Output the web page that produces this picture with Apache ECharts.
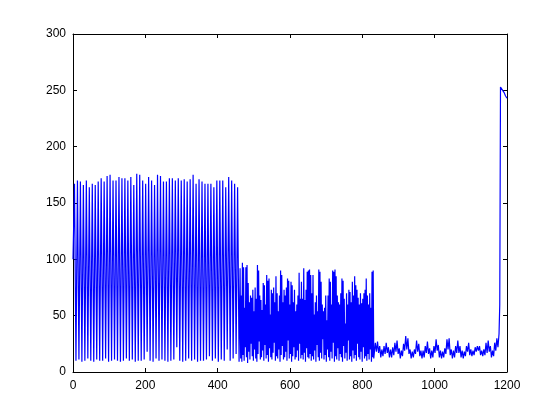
<!DOCTYPE html>
<html>
<head>
<meta charset="utf-8">
<script src="https://cdn.jsdelivr.net/npm/echarts@6/dist/echarts.min.js"></script>
<style>
html,body{margin:0;padding:0;background:#fff;}
#chart{width:560px;height:420px;}
</style>
</head>
<body>
<div id="chart"></div>
<script>
// ---- data ----
// segment 1: sampled every 4.1 units from 0, first point then peak/trough pairs
const seg1Start = 0;
const seg1Step = 4.1;
const seg1First = 100;
const seg1Peaks = [167,170,169,166,170,164,167,166,169,172,169,174,175,170,170,173,172,172,170,173,166,176,175,170,167,173,170,166,175,174,169,169,172,172,170,172,170,171,169,171,175,167,171,169,167,167,167,164,170,170,170,164,173,170,167,164];
const seg1Troughs = [10,11,9,10,12,10,9,11,10,10,12,9,10,11,10,9,10,12,10,11,9,10,10,11,18,10,9,12,10,11,10,9,10,11,22,10,9,10,12,10,11,9,10,10,11,14,10,12,9,11,10,20,10,12,16,9];

// segment 2: sampled every 1.6 units from 462, peak/trough pairs
const seg2Start = 462;
const seg2Step = 1.6;
const seg2Peaks = [92,68,97,93,57,93,95,79,62,68,66,73,54,75,65,95,90,68,64,55,79,77,60,86,81,83,51,73,70,75,62,85,70,54,68,90,86,62,73,68,75,83,81,60,80,77,62,73,54,60,68,88,65,80,65,92,64,73,89,90,91,86,70,86,51,62,68,54,91,89,80,60,54,57,68,46,68,83,80,60,90,89,91,85,68,62,60,70,83,81,65,43,70,60,73,71,62,80,68,85,77,73,66,60,70,61,65,70,73,83,68,60,70,57,89,90];
const seg2Troughs = [12,9,15,10,22,13,8,18,11,25,14,10,20,12,9,16,27,11,13,19,10,24,12,15,9,21,13,11,17,26,10,14,12,20,9,15,23,11,13,18,10,28,12,16,9,14,22,11,13,19,10,25,12,15,11,17,9,21,13,12,16,10,14,11,19,9,24,13,10,17,12,29,11,15,9,20,13,10,18,12,26,9,14,11,21,10,16,13,9,23,12,17,10,28,11,14,9,19,12,15,10,25,13,11,18,9,22,12,14,10,16,11,20,9,13,12];

// segment 3: sampled every 3 units from 836
const seg3Start = 836;
const seg3Step = 3;
const seg3Values = [26,18,27,17,23,13,20,14,23,16,26,17,22,13,20,13,22,15,26,18,28,16,21,12,19,14,25,19,32,20,30,16,20,12,18,13,20,16,28,18,25,14,19,12,19,13,23,17,27,16,21,12,19,13,23,17,29,19,24,13,19,12,18,13,21,16,29,20,30,15,20,12,19,13,23,17,28,17,23,13,19,12,18,14,23,18,26,15,20,14,19,15,22,18,23,19,23,15,19,14,20,15,26,17,28,18,23,13,19,14,26,19,30,22,34];

// final spike
const tailX = [1180,1182,1184,1188,1192,1196,1200];
const tailY = [60,253,252,250,248,245,243];

// axis ticks
const xTicks = [0,200,400,600,800,1000,1200];
const yTicks = [0,50,100,150,200,250,300];

// ---- build series data ----
const data = [];
data.push([seg1Start, seg1First]);
for (let k = 0; k < seg1Peaks.length; k++) {
  data.push([seg1Start + (2*k+1)*seg1Step, seg1Peaks[k]]);
  data.push([seg1Start + (2*k+2)*seg1Step, seg1Troughs[k]]);
}
for (let k = 0; k < seg2Peaks.length; k++) {
  data.push([seg2Start + (2*k)*seg2Step, seg2Peaks[k]]);
  data.push([seg2Start + (2*k+1)*seg2Step, seg2Troughs[k]]);
}
for (let k = 0; k < seg3Values.length; k++) {
  data.push([seg3Start + k*seg3Step, seg3Values[k]]);
}
for (let k = 0; k < tailX.length; k++) data.push([tailX[k], tailY[k]]);

const font = {fontFamily:'Liberation Sans, Arial, sans-serif', fontSize:12, color:'#000'};
const axisCommon = {
  axisLine:{show:true, onZero:false, lineStyle:{color:'#000', width:1}},
  axisTick:{show:true, inside:true, length:4, lineStyle:{color:'#000'}},
  splitLine:{show:false}
};
const plain = v => String(v);

const chart = echarts.init(document.getElementById('chart'), null, {renderer:'canvas'});
chart.setOption({
  animation:false,
  backgroundColor:'#fff',
  grid:{left:73, right:53, top:34, bottom:48, containLabel:false},
  xAxis:[
    Object.assign({type:'value', position:'bottom', min:xTicks[0], max:xTicks[xTicks.length-1], interval:200,
      axisLabel:Object.assign({margin:8, formatter:plain}, font)}, axisCommon),
    Object.assign({type:'value', position:'top', min:xTicks[0], max:xTicks[xTicks.length-1], interval:200,
      axisLabel:{show:false}}, axisCommon)
  ],
  yAxis:[
    Object.assign({type:'value', position:'left', min:yTicks[0], max:yTicks[yTicks.length-1], interval:50,
      axisLabel:Object.assign({margin:7, formatter:plain}, font)}, axisCommon),
    Object.assign({type:'value', position:'right', min:yTicks[0], max:yTicks[yTicks.length-1], interval:50,
      axisLabel:{show:false}}, axisCommon)
  ],
  series:[{
    type:'line',
    data:data,
    showSymbol:false,
    symbol:'none',
    lineStyle:{color:'#0000ff', width:1.2},
    xAxisIndex:0, yAxisIndex:0
  }]
});
</script>
</body>
</html>
